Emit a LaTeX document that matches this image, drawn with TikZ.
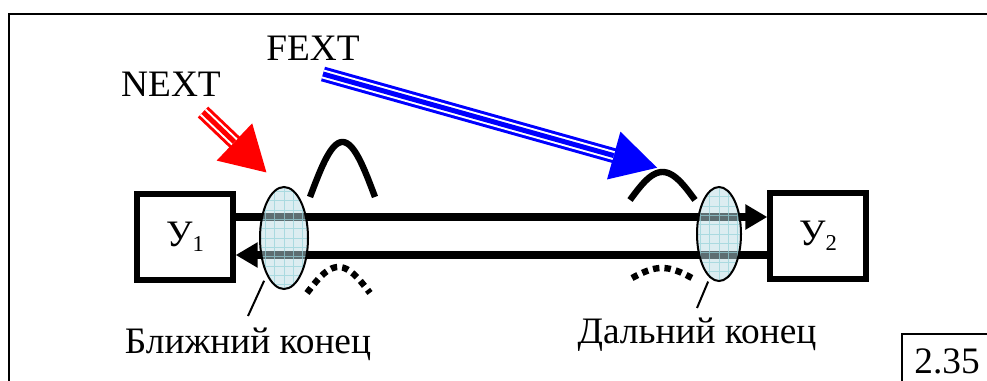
\documentclass[tikz,border=0pt]{standalone}
\usepackage{fontspec}
\setmainfont{Liberation Serif}
\usetikzlibrary{arrows.meta,shapes.geometric,calc}
\definecolor{ellfill}{RGB}{187,221,229}
\definecolor{gridc}{RGB}{150,210,218}
\begin{document}
\begin{tikzpicture}[x=0.75pt,y=-0.75pt,
  box/.style={draw, line width=4pt, minimum width=72pt, minimum height=64.5pt, inner sep=0pt, fill=white, font=\fontsize{28}{33}\selectfont},
  lbl/.style={font=\fontsize{28}{33}\selectfont, inner sep=0pt, anchor=base},
  wire/.style={line width=5.8pt},
  wiretip/.style={-{Triangle[length=16.5pt,width=18pt]}},
  pulse/.style={line width=4.8pt},
  dotpulse/.style={line width=4.8pt, dash pattern=on 4.8pt off 3.8pt},
  coupler/.style={ellipse, draw, line width=1.5pt, fill=ellfill, fill opacity=0.5, inner sep=0pt,
    path picture={\draw[gridc, line width=0.6pt, draw opacity=0.7] (path picture bounding box.south west) grid[step=7pt] (path picture bounding box.north east);}},
  leader/.style={line width=1.5pt},
  shaftw/.style={white, line width=6.75pt},
]
\useasboundingbox[fill=white] (0,0) rectangle (987,381);
% frame
\draw[line width=1.9pt] (9,381) -- (9,14) -- (987,14);
\draw[line width=1.5pt] (902,381) -- (902,334) -- (987,334);

% boxes
\node[box] (Y1) at (185,237) {У\raisebox{-3.75pt}{\fontsize{17}{20}\selectfont 1}};
\node[box] (Y2) at (818,236) {У\raisebox{-3.75pt}{\fontsize{17}{20}\selectfont 2}};

% wires
\coordinate (fy) at (0,217);
\coordinate (by) at (0,255);
\draw[wire,wiretip] (Y1.east |- fy) -- (Y2.west |- fy);
\draw[wire,wiretip] (Y2.west |- by) -- (Y1.east |- by);

% couplers
\node[coupler, minimum width=36pt, minimum height=76.5pt] (nearE) at (284,238) {};
\node[coupler, minimum width=33pt, minimum height=70.5pt] (farE) at (719,234) {};

% leaders and labels
\node[lbl] (nearL) at (248,353) {Ближний конец};
\node[lbl] (farL) at (697,343) {Дальний конец};
\coordinate (nearLd) at (248,316);
\coordinate (farLd) at (697,308);
\draw[leader, shorten <=4.5pt] (nearE.245) -- (nearLd);
\draw[leader, shorten <=3pt] (farE.258) -- (farLd);

% pulses
\draw[pulse] plot[domain=0:1, samples=40, smooth] ({310+65*\x}, {197-55*sin(180*\x)});
\draw[dotpulse] plot[domain=0:1, samples=40, smooth] ({307+63*\x}, {293-26*sin(180*\x)});
\draw[pulse] plot[domain=0:1, samples=40, smooth] ({630+65*\x}, {200-28*sin(180*\x)});
\draw[dotpulse] plot[domain=0:1, samples=40, smooth] ({632+60*\x}, {278-10*sin(180*\x)});

% NEXT arrow
\node[lbl] (nextL) at (171,97) {NEXT};
\coordinate (nextS) at (203,112);
\coordinate (nextT) at (267,173);
\draw[red, line width=11.25pt, -{Triangle[length=33.75pt,width=36pt]}] (nextS) -- (nextT);
\coordinate (nextB) at ($(nextT)!33.75pt!(nextS)$);
\draw[shaftw] (nextS) -- (nextB);
\draw[red, line width=3.75pt] (nextS) -- (nextB);

% FEXT arrow
\node[lbl] (fextL) at (313,61) {FEXT};
\coordinate (fextS) at (323,74);
\coordinate (fextT) at (658,168);
\draw[blue, line width=11.25pt, -{Triangle[length=34.5pt,width=34.5pt]}] (fextS) -- (fextT);
\coordinate (fextB) at ($(fextT)!34.5pt!(fextS)$);
\draw[shaftw] (fextS) -- (fextB);
\draw[blue, line width=3.75pt] (fextS) -- (fextB);

% figure number
\node[lbl] (fig) at (947,373) {2.35};
\end{tikzpicture}
\end{document}
